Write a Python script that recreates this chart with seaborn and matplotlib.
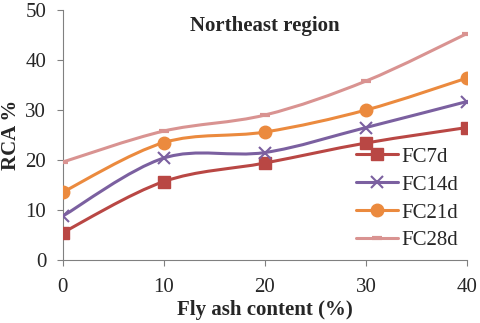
import numpy as np
import pandas as pd
import matplotlib
matplotlib.use("Agg")
import matplotlib.pyplot as plt
import seaborn as sns
from matplotlib.path import Path
from matplotlib.patches import PathPatch
from matplotlib.lines import Line2D

fly_ash = [0, 10, 20, 30, 40]
series_names = ["FC7d", "FC14d", "FC21d", "FC28d"]
fc7d = [5.5, 15.7, 19.4, 23.4, 26.5]
fc14d = [8.8, 20.4, 21.5, 26.5, 31.7]
fc21d = [13.6, 23.5, 25.6, 30.0, 36.4]
fc28d = [19.6, 25.8, 29.0, 35.8, 45.3]
yticks = [0, 10, 20, 30, 40, 50]

colors = ["#B94744", "#7B60A0", "#EB8A3E", "#D99391"]
markers = ["s", "x", "o", "_"]
msizes = [9, 8, 9, 7]
mews = [1.0, 1.5, 1.0, 3.0]

sns.set_theme(style="white")
SERIF = ["Liberation Serif", "DejaVu Serif"]
plt.rcParams["font.family"] = SERIF

fig = plt.figure(figsize=(4.8, 3.23), dpi=100)
ax = fig.add_axes([0.131, 0.195, 0.842, 0.774])

def smooth_path(xs, ys):
    pts = np.column_stack([xs, ys]).astype(float)
    n = len(pts)
    verts = [pts[0]]
    codes = [Path.MOVETO]
    for i in range(n - 1):
        p0 = pts[i - 1] if i > 0 else pts[i]
        p1 = pts[i]
        p2 = pts[i + 1]
        p3 = pts[i + 2] if i + 2 < n else pts[i + 1]
        c1 = p1 + (p2 - p0) / 6.0
        c2 = p2 - (p3 - p1) / 6.0
        verts += [c1, c2, p2]
        codes += [Path.CURVE4] * 3
    return Path(verts, codes)

handles = []
for name, vals, c, m, ms, mew in zip(series_names, [fc7d, fc14d, fc21d, fc28d],
                                     colors, markers, msizes, mews):
    d = pd.DataFrame({"x": fly_ash, "y": vals})
    sns.lineplot(data=d, x="x", y="y", color=c, marker=m, markersize=ms,
                 markeredgewidth=mew, markerfacecolor=c, markeredgecolor=c,
                 linestyle="None", ax=ax, zorder=3)
    line = ax.get_lines()[-1]
    ax.add_patch(PathPatch(smooth_path(line.get_xdata(), line.get_ydata()),
                           facecolor="none", edgecolor=c, lw=2.2, zorder=2,
                           capstyle="round"))
    handles.append(Line2D([], [], color=c, marker=m, lw=2.2, markersize=ms,
                          markeredgewidth=mew, markerfacecolor=c, markeredgecolor=c))

ax.set_xlim(0, 40)
ax.set_ylim(0, 50)
ax.set_xticks(fly_ash)
ax.set_yticks(yticks)
ax.tick_params(axis="both", labelsize=15, length=4, width=0.8, color="#808080",
               direction="out", left=True, bottom=True)
ax.tick_params(axis="y", pad=8)
ax.tick_params(axis="x", pad=9)
for lab in ax.get_xticklabels() + ax.get_yticklabels():
    lab.set_family(SERIF)
for sp in ["top", "right"]:
    ax.spines[sp].set_visible(False)
for sp in ["left", "bottom"]:
    ax.spines[sp].set_color("#808080")
    ax.spines[sp].set_linewidth(0.8)

ax.set_xlabel("Fly ash content (%)", fontsize=15, fontweight="bold", labelpad=2,
              family=SERIF)
ax.set_ylabel("RCA %", fontsize=15, fontweight="bold", labelpad=3, family=SERIF)
ax.text(0.5, 0.975, "Northeast region", transform=ax.transAxes, ha="center",
        va="top", fontsize=15, fontweight="bold", family=SERIF)

ax.legend(handles, series_names, loc="lower right", bbox_to_anchor=(1.0, 0.005),
          frameon=False, prop={"family": SERIF, "size": 15}, handlelength=2.0,
          handletextpad=0.2, labelspacing=0.4, borderaxespad=0)

fig.savefig("out.png", dpi=100)
